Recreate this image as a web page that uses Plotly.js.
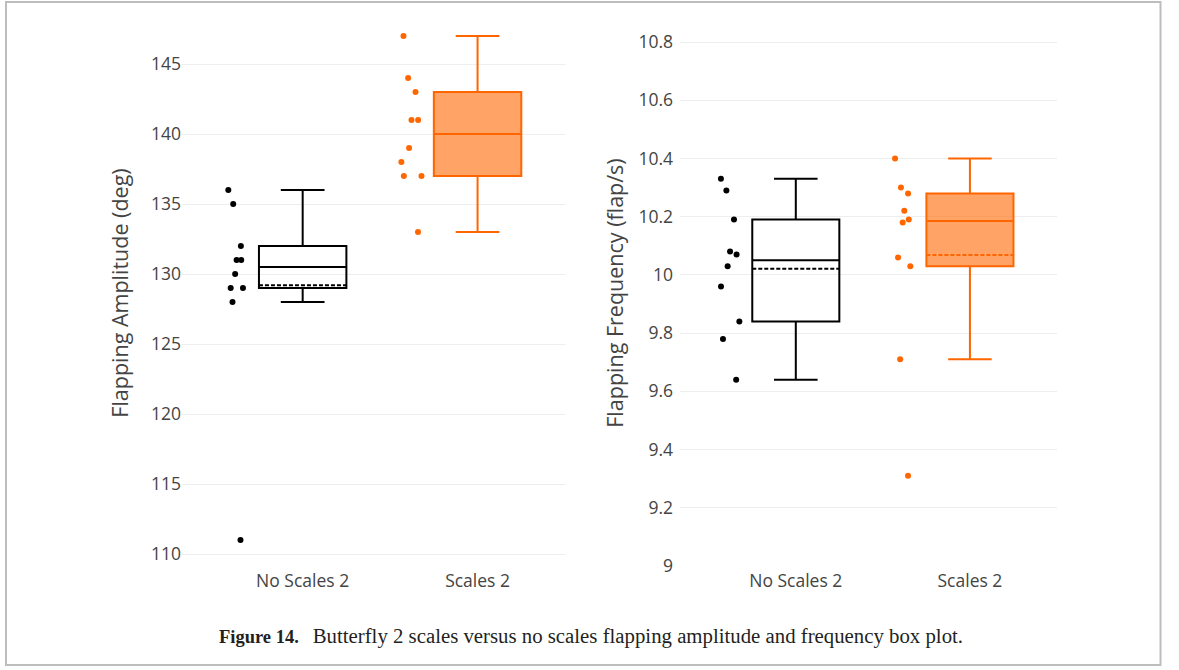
<!DOCTYPE html>
<html>
<head>
<meta charset="utf-8">
<script src="https://cdn.plot.ly/plotly-3.0.1.min.js"></script>
<style>
  html, body { margin: 0; padding: 0; background: #fff; }
  #chart { width: 1179px; height: 670px; }
</style>
</head>
<body>
<div id="chart"></div>
<script>
// ---- data ----
const categories = ['No Scales 2', 'Scales 2'];
const amplitudeNoScales = [136, 135, 132, 131, 131, 130, 129, 129, 128, 111];
const amplitudeScales   = [147, 144, 143, 141, 141, 139, 138, 137, 137, 133];
const frequencyNoScales = [10.33, 10.29, 10.19, 10.08, 10.07, 10.03, 9.96, 9.84, 9.78, 9.64];
const frequencyScales   = [10.40, 10.30, 10.28, 10.22, 10.19, 10.18, 10.06, 10.03, 9.71, 9.31];
const amplitudeTicks = [110, 115, 120, 125, 130, 135, 140, 145];
const frequencyTicks = [9, 9.2, 9.4, 9.6, 9.8, 10, 10.2, 10.4, 10.6, 10.8];
const captionBold = 'Figure 14.';
const captionText = 'Butterfly 2 scales versus no scales flapping amplitude and frequency box plot.';

// ---- styles ----
const W = 1179, H = 670;
const black = 'rgb(0,0,0)';
const orange = 'rgb(255,102,0)';
const orangeFill = 'rgba(255,102,0,0.6)';
const font = 'Open Sans, Noto Sans, sans-serif';
const tickSize = 17.5, titleSize = 21.5;

function boxTrace(values, cat, color, fill, xa, ya) {
  return {
    type: 'box',
    y: values,
    x: values.map(() => cat),
    name: cat,
    xaxis: xa, yaxis: ya,
    boxpoints: 'all',
    jitter: 0.3,
    pointpos: -1.5,
    boxmean: true,
    width: 0.5,
    whiskerwidth: 0.5,
    line: { color: color, width: 2 },
    fillcolor: fill,
    marker: { color: color, size: 6 },
    showlegend: false,
    hoverinfo: 'y'
  };
}

const data = [
  boxTrace(amplitudeNoScales, categories[0], black, 'rgba(255,255,255,0)', 'x', 'y'),
  boxTrace(amplitudeScales, categories[1], orange, orangeFill, 'x', 'y'),
  boxTrace(frequencyNoScales, categories[0], black, 'rgba(255,255,255,0)', 'x2', 'y2'),
  boxTrace(frequencyScales, categories[1], orange, orangeFill, 'x2', 'y2')
];

const yBottom = (H - 566) / H, yTop = (H - 20) / H;

const layout = {
  width: W, height: H,
  margin: { l: 0, r: 0, t: 0, b: 0 },
  paper_bgcolor: '#fff', plot_bgcolor: '#fff',
  font: { family: font, size: tickSize, color: '#444' },
  showlegend: false,
  xaxis: {
    domain: [182 / W, 565 / W], anchor: 'y',
    type: 'category', categoryorder: 'array', categoryarray: categories,
    range: [-0.69, 1.5],
    showgrid: false, zeroline: false, showline: false, ticks: '',
    ticklabelstandoff: 2,
    tickfont: { size: tickSize, color: '#444' }
  },
  yaxis: {
    domain: [yBottom, yTop], anchor: 'x',
    range: [110 - 12 / 14, 145 + 44 / 14],
    tickvals: amplitudeTicks,
    showgrid: true, gridcolor: '#eee', gridwidth: 1,
    zeroline: false, showline: false, ticks: '',
    tickfont: { size: tickSize, color: '#444' },
    title: { text: 'Flapping Amplitude (deg)', font: { size: titleSize, color: '#444' }, standoff: 16 }
  },
  xaxis2: {
    domain: [680 / W, 1057 / W], anchor: 'y2',
    type: 'category', categoryorder: 'array', categoryarray: categories,
    range: [-0.665, 1.5],
    showgrid: false, zeroline: false, showline: false, ticks: '',
    ticklabelstandoff: 2,
    tickfont: { size: tickSize, color: '#444' }
  },
  yaxis2: {
    domain: [yBottom, yTop], anchor: 'x2',
    range: [9, 10.8 + 22 / 291.1],
    tickvals: frequencyTicks,
    showgrid: true, gridcolor: '#eee', gridwidth: 1,
    zeroline: false, showline: false, ticks: '',
    ticklabelstandoff: 6,
    tickfont: { size: tickSize, color: '#444' },
    title: { text: 'Flapping Frequency (flap/s)', font: { size: titleSize, color: '#444' }, standoff: 8 }
  },
  shapes: [{
    type: 'rect', xref: 'paper', yref: 'paper',
    x0: 6 / W, x1: 1160.5 / W, y0: (H - 665) / H, y1: (H - 2) / H,
    line: { color: '#bdbdbd', width: 2 }, fillcolor: 'rgba(0,0,0,0)', layer: 'below'
  }],
  annotations: [{
    xref: 'paper', yref: 'paper',
    x: 217 / W, y: (H - 636) / H, xanchor: 'left', yanchor: 'middle',
    showarrow: false,
    text: '<b>' + captionBold + '</b>\u2002 <span style="font-size:20.8px">' + captionText + '</span>',
    font: { family: 'Liberation Serif, DejaVu Serif, serif', size: 18.5, color: '#231f20' }
  }]
};

Plotly.newPlot('chart', data, layout, { displayModeBar: false, staticPlot: true });
</script>
</body>
</html>
